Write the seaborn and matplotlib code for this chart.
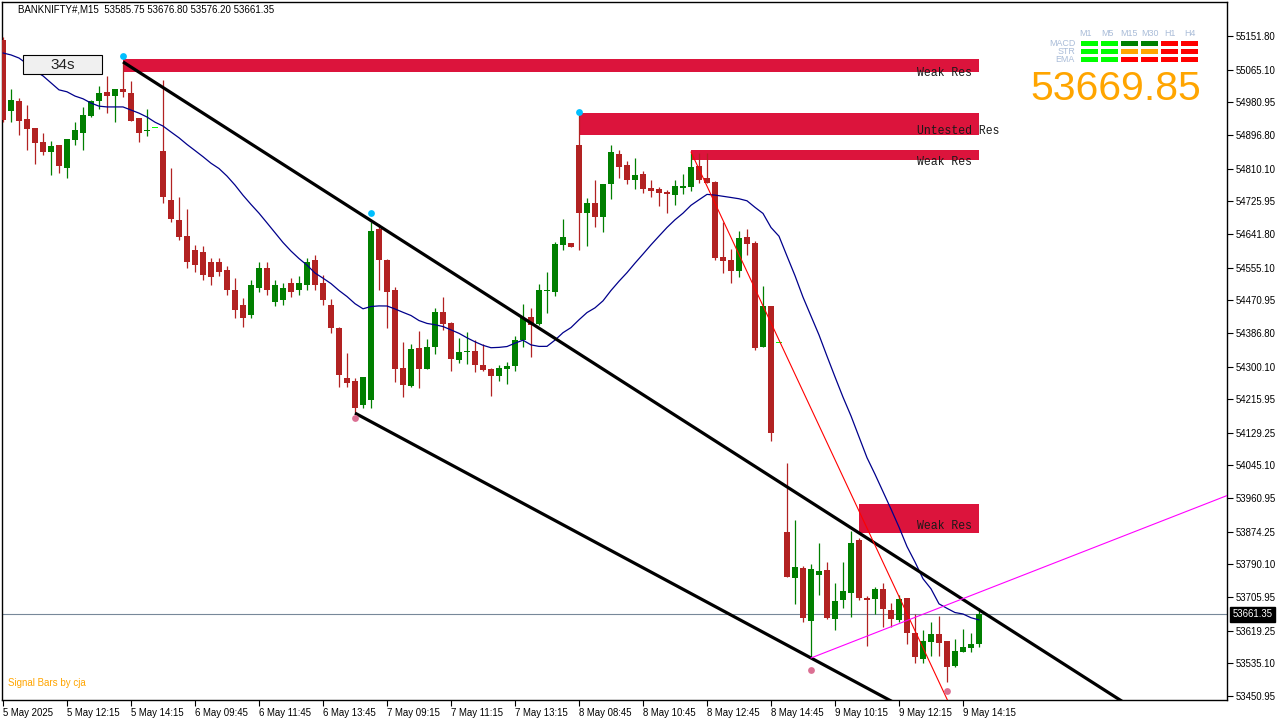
import numpy as np
import pandas as pd
import matplotlib
matplotlib.use("Agg")
import matplotlib.pyplot as plt
from matplotlib.patches import Rectangle
import seaborn as sns

# ---------------- data ----------------
opens = [55142, 54959, 54984, 54938, 54915, 54879, 54853, 54871, 54812, 54884,
         54902, 54946, 54984, 55008, 54997, 55015, 55005, 54941, 54907, 54917,
         54856, 54729, 54678, 54636, 54600, 54595, 54569, 54569, 54549, 54497,
         54459, 54433, 54502, 54554, 54466, 54472, 54515, 54497, 54510, 54575,
         54515, 54459, 54399, 54270, 54263, 54201, 54214, 54655, 54575, 54497,
         54296, 54250, 54348, 54294, 54350, 54441, 54412, 54317, 54338, 54340,
         54304, 54294, 54276, 54294, 54301, 54368, 54428, 54410, 54495, 54492,
         54613, 54618, 54871, 54696, 54722, 54685, 54770, 54848, 54819, 54781,
         54796, 54760, 54758, 54750, 54742, 54760, 54763, 54817, 54786, 54776,
         54582, 54575, 54546, 54634, 54618, 54350, 54456, 54363, 53874, 53755,
         53781, 53644, 53763, 53776, 53649, 53698, 53716, 53853, 53704, 53701,
         53727, 53673, 53647, 53704, 53613, 53546, 53590, 53611, 53593, 53528,
         53564, 53575, 53585.75]
highs = [55149, 55015, 54992, 54974, 54915, 54902, 54881, 54871, 54886, 54930,
         54969, 54987, 55023, 55049, 55015, 55085, 55036, 54941, 54964, 54917,
         55038, 54812, 54737, 54706, 54613, 54611, 54580, 54580, 54559, 54528,
         54477, 54523, 54569, 54569, 54523, 54515, 54528, 54533, 54580, 54588,
         54536, 54474, 54402, 54335, 54271, 54273, 54672, 54667, 54577, 54505,
         54363, 54358, 54392, 54371, 54451, 54479, 54415, 54374, 54389, 54368,
         54358, 54296, 54304, 54312, 54379, 54461, 54451, 54513, 54544, 54621,
         54680, 54618, 54953, 54734, 54781, 54770, 54871, 54858, 54830, 54838,
         54804, 54781, 54763, 54755, 54781, 54796, 54850, 54850, 54850, 54778,
         54673, 54603, 54649, 54655, 54623, 54507, 54456, 54363, 54052, 53905,
         53786, 53791, 53845, 53796, 53742, 53796, 53876, 53858, 53709, 53732,
         53742, 53691, 53711, 53704, 53662, 53621, 53642, 53657, 53593, 53598,
         53624, 53613, 53676.80]
lows = [54930, 54930, 54897, 54858, 54822, 54845, 54794, 54799, 54786, 54871,
        54858, 54943, 54964, 54953, 54930, 54995, 54933, 54879, 54894, 54917,
        54722, 54673, 54626, 54554, 54544, 54523, 54510, 54533, 54484, 54425,
        54402, 54425, 54492, 54484, 54456, 54459, 54479, 54484, 54497, 54497,
        54459, 54386, 54247, 54247, 54180, 54193, 54193, 54497, 54399, 54260,
        54222, 54247, 54245, 54294, 54332, 54394, 54289, 54309, 54307, 54286,
        54289, 54224, 54263, 54255, 54289, 54350, 54325, 54407, 54438, 54482,
        54600, 54608, 54600, 54611, 54660, 54647, 54732, 54786, 54770, 54758,
        54747, 54737, 54714, 54696, 54716, 54745, 54752, 54773, 54773, 54575,
        54541, 54515, 54531, 54588, 54343, 54350, 54108, 54363, 53758, 53688,
        53642, 53549, 53711, 53649, 53621, 53678, 53655, 53698, 53580, 53662,
        53629, 53629, 53642, 53585, 53536, 53536, 53554, 53554, 53487, 53526,
        53564, 53564, 53576.20]
closes = [54935, 54987, 54933, 54912, 54876, 54853, 54868, 54817, 54886, 54910,
          54948, 54984, 55005, 54997, 55015, 55008, 54933, 54902, 54907, 54917,
          54737, 54680, 54634, 54569, 54562, 54536, 54531, 54544, 54497, 54446,
          54425, 54510, 54554, 54497, 54510, 54502, 54492, 54515, 54569, 54510,
          54472, 54400, 54278, 54258, 54193, 54273, 54649, 54575, 54492, 54294,
          54252, 54345, 54294, 54350, 54441, 54410, 54319, 54338, 54338, 54304,
          54291, 54276, 54296, 54301, 54368, 54425, 54407, 54497, 54495, 54616,
          54634, 54608, 54696, 54722, 54685, 54770, 54853, 54814, 54781, 54794,
          54758, 54752, 54747, 54745, 54765, 54765, 54814, 54781, 54773, 54580,
          54572, 54546, 54631, 54616, 54348, 54456, 54129, 54363, 53758, 53783,
          53652, 53778, 53773, 53652, 53696, 53722, 53845, 53704, 53698, 53727,
          53675, 53649, 53701, 53613, 53552, 53593, 53611, 53588, 53526, 53567,
          53577, 53585, 53661.35]
tick_bars = [19, 97]          # single-tick bars drawn as lime dashes
ma_head = [55108, 55103, 55095, 55080, 55062, 55049, 55031, 55013, 55008, 54997,
           54990, 54979, 54971, 54969, 54969, 54969, 54961, 54953, 54943]
ma_period = 20

price_ticks = [55151.80, 55065.10, 54980.95, 54896.80, 54810.10, 54725.95, 54641.80,
               54555.10, 54470.95, 54386.80, 54300.10, 54215.95, 54129.25, 54045.10,
               53960.95, 53874.25, 53790.10, 53705.95, 53619.25, 53535.10, 53450.95]
label_bars = [0, 8, 16, 24, 32, 40, 48, 56, 64, 72, 80, 88, 96, 104, 112, 120]
time_labels = ["5 May 2025", "5 May 12:15", "5 May 14:15", "6 May 09:45", "6 May 11:45",
               "6 May 13:45", "7 May 09:15", "7 May 11:15", "7 May 13:15", "8 May 08:45",
               "8 May 10:45", "8 May 12:45", "8 May 14:45", "9 May 10:15", "9 May 12:15",
               "9 May 14:15"]

zone_left = [15, 72, 86, 107]
zone_right = [122, 122, 122, 122]
zone_top = [55093, 54953, 54858, 53946]
zone_bottom = [55059, 54897, 54832, 53871]
zone_names = ["Weak Res", "Untested Res", "Weak Res", "Weak Res"]
zone_label_price = [55057, 54906, 54826, 53889]

high_dot_bars = [15, 46, 72]
high_dot_prices = [55100, 54696, 54956]
low_dot_bars = [44, 101, 118]
low_dot_prices = [54167, 53518, 53464]

upper_bars, upper_prices = [15, 46], [55085, 54676]
lower_bars, lower_prices = [44, 101], [54180, 53549]
red_bars, red_prices = [86, 118], [54853, 53443]
mag_bars, mag_prices = [101, 122], [53549, 53718]

last_price = 53661.35
header = "BANKNIFTY#,M15  53585.75 53676.80 53576.20 53661.35"
big_price = "53669.85"
panel_cols = ["M1", "M5", "M15", "M30", "H1", "H4"]
panel_rows = ["MACD", "STR", "EMA"]
panel_colors = [["#00FF00", "#00FF00", "#008000", "#008000", "#FF0000", "#FF0000"],
                ["#00FF00", "#00FF00", "#FFA500", "#FFA500", "#FF0000", "#FF0000"],
                ["#00FF00", "#00FF00", "#FF0000", "#FF0000", "#FF0000", "#FF0000"]]

# ---------------- style ----------------
sns.set_theme(style="white")
plt.rcParams['font.family'] = ['Liberation Sans', 'DejaVu Sans']

GREEN = "#007F00"
RED = "#B22222"
W, H = 1280, 720

fig = plt.figure(figsize=(12.8, 7.2), dpi=100, facecolor="white")
ax = fig.add_axes([2 / W, 20 / H, 1225 / W, 698 / H])
ax.set_facecolor("white")

df = pd.DataFrame({"o": opens, "h": highs, "l": lows, "c": closes})
df["i"] = np.arange(len(df))
is_tick = df["i"].isin(tick_bars)
up = (df["c"] >= df["o"]) & ~is_tick
dn = (df["c"] < df["o"]) & ~is_tick

# zones (behind candles)
for l, r, t, b in zip(zone_left, zone_right, zone_top, zone_bottom):
    ax.add_patch(Rectangle((l, b), r - l, t - b, facecolor="#DC143C", edgecolor="none", zorder=1))
for l, name, p in zip(zone_left, zone_names, zone_label_price):
    ax.text(114.25, p, name, family=["Liberation Mono", "DejaVu Sans Mono"], fontsize=8.3,
            color="#1a1a1a", va="center", ha="left", zorder=2)

# candles
for mask, col in [(up, GREEN), (dn, RED)]:
    d = df[mask]
    ax.vlines(d["i"], d["l"], d["h"], color=col, lw=0.9, zorder=3)
    ax.bar(d["i"], np.maximum((d["c"] - d["o"]).abs(), 2.6), bottom=np.minimum(d["o"], d["c"]),
           width=0.66, color=col, linewidth=0, zorder=4)
d = df[is_tick]
ax.bar(d["i"], 2.6, bottom=d["c"] - 1.3, width=0.66, color="#00FF00", linewidth=0, zorder=4)

# moving average
ma = df["c"].rolling(ma_period).mean()
ma.iloc[:len(ma_head)] = ma_head
sns.lineplot(x=df["i"], y=ma, color="#00008B", lw=0.9, ax=ax, zorder=5)

# current price line
ax.axhline(last_price, color="#778899", lw=0.8, zorder=2)


def ray(bars, prices, end, **kw):
    s = (prices[1] - prices[0]) / (bars[1] - bars[0])
    ax.plot([bars[0], end], [prices[0], prices[0] + s * (end - bars[0])], **kw)


ray(upper_bars, upper_prices, 170, color="black", lw=2.3, zorder=6, solid_capstyle="butt")
ray(lower_bars, lower_prices, 170, color="black", lw=2.3, zorder=6, solid_capstyle="butt")
ray(red_bars, red_prices, 130, color="#FF0000", lw=0.8, zorder=6)
ray(mag_bars, mag_prices, 170, color="#FF00FF", lw=0.8, zorder=6)

ax.scatter(high_dot_bars, high_dot_prices, s=24, color="#00BFFF", zorder=7, linewidths=0)
ax.scatter(low_dot_bars, low_dot_prices, s=24, color="#DB7093", zorder=7, linewidths=0)

# axes
ax.set_xlim(-0.125, 153)
ax.set_ylim(53440.7, 55239.4)
ax.set_xlabel("")
ax.set_ylabel("")
ax.yaxis.tick_right()
ax.set_yticks(price_ticks)
ax.set_yticklabels([f"{v:.2f}" for v in price_ticks])
ax.set_xticks(label_bars)
ax.set_xticklabels(time_labels, ha="left")
ax.tick_params(axis="y", which="both", right=True, left=False, direction="out", length=4,
               width=0.8, pad=2, labelsize=6.9, colors="black")
ax.tick_params(axis="x", which="both", bottom=True, top=False, direction="out", length=4,
               width=0.8, pad=1.5, labelsize=6.9, colors="black")
for sp in ax.spines.values():
    sp.set_color("black")
    sp.set_linewidth(1.0)
    sp.set_visible(True)

ax.annotate(f"{last_price:.2f}", xy=(1.0, last_price), xycoords=("axes fraction", "data"),
            xytext=(4, 0), textcoords="offset points", va="center", ha="left", fontsize=6.9,
            color="white", annotation_clip=False,
            bbox=dict(boxstyle="square,pad=0.28", fc="black", ec="black"))

# overlay texts
fig.text(18 / W, 1 - 10 / H, header, fontsize=7, color="black", va="center", ha="left")
fig.patches.append(Rectangle((23 / W, 1 - 74 / H), 79 / W, 19 / H, transform=fig.transFigure,
                             facecolor="#F0F0F0", edgecolor="black", lw=0.8, zorder=5))
fig.text(62.5 / W, 1 - 65 / H, "34s", fontsize=11, color="#222222", ha="center", va="center", zorder=6)
fig.text(8 / W, 1 - 683 / H, "Signal Bars by cja", fontsize=7, color="#FFA500", va="center", ha="left")

col_centers = [1086, 1107.5, 1129, 1150, 1170, 1189.5]
for name, cx in zip(panel_cols, col_centers):
    fig.text(cx / W, 1 - 33.5 / H, name, fontsize=6.4, color="#A9BCD8", ha="center", va="center")
for r, (rname, row) in enumerate(zip(panel_rows, panel_colors)):
    ytop = 41 + 8 * r
    fig.text(1075 / W, 1 - (ytop + 2.5) / H, rname, fontsize=6.4, color="#A9BCD8", ha="right", va="center")
    for k, col in enumerate(row):
        fig.patches.append(Rectangle(((1081 + 20 * k) / W, 1 - (ytop + 5) / H), 16.5 / W, 5 / H,
                                     transform=fig.transFigure, facecolor=col, edgecolor="none", zorder=5))
fig.text(1116 / W, 1 - 100 / H, big_price, fontsize=29.5, color="#FFA500", ha="center", va="baseline",
         family=["Liberation Sans Narrow", "Liberation Sans"])

fig.savefig("out.png", dpi=100, facecolor="white")
